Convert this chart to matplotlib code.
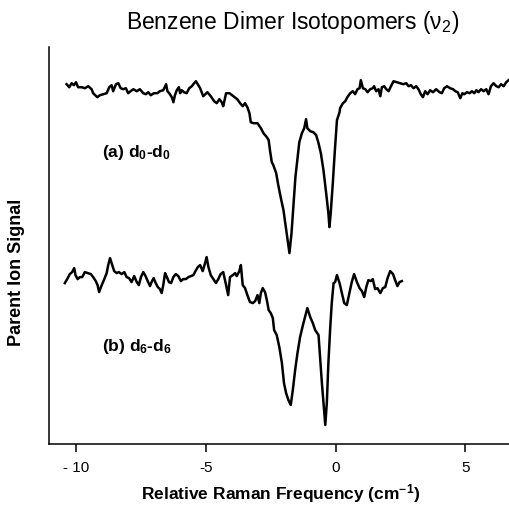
""" Benzene dimer isotopomers: Raman spectra of d0-d0 and d6-d6 """
import matplotlib
matplotlib.use('Agg')
import matplotlib.pyplot as plt

# (a) d0-d0 trace: relative Raman frequency (cm-1) and parent ion signal (arb.)
freq_a = [
    -10.36, -10.26, -10.17, -10.08, -10.00, -9.92, -9.78, -9.66, -9.53, -9.40,
    -9.34, -9.18, -9.08, -8.95, -8.82, -8.72, -8.63, -8.57, -8.46, -8.37,
    -8.28, -8.18, -8.08, -7.99, -7.90, -7.79, -7.66, -7.54, -7.41, -7.31,
    -7.22, -7.12, -7.00, -6.87, -6.77, -6.64, -6.53, -6.48, -6.41, -6.31,
    -6.25, -6.19, -6.12, -6.04, -5.99, -5.93, -5.84, -5.74, -5.64, -5.54,
    -5.45, -5.38, -5.29,
    -5.22, -5.10, -4.94, -4.81, -4.68, -4.58, -4.48, -4.39, -4.33, -4.22,
    -4.09, -3.94, -3.79, -3.68, -3.58, -3.49, -3.40, -3.32, -3.27, -3.17,
    -3.01, -2.88, -2.78, -2.65, -2.58, -2.53, -2.46, -2.40, -2.29, -2.21,
    -2.11, -2.01, -1.94, -1.86, -1.78, -1.70, -1.63, -1.55, -1.47, -1.40,
    -1.30, -1.21, -1.14, -1.09, -0.98, -0.86, -0.75, -0.66, -0.57, -0.47,
    -0.37, -0.28, -0.24, -0.19, -0.11, -0.03, 0.05, 0.15,
    0.17, 0.28, 0.37, 0.45, 0.56, 0.66, 0.75, 0.84, 0.92, 0.97,
    1.05, 1.14, 1.23, 1.33, 1.43, 1.48, 1.56, 1.65, 1.72, 1.78,
    1.87, 1.95, 2.04, 2.13, 2.23, 2.36, 2.49, 2.61, 2.72, 2.81,
    2.90, 3.00, 3.10, 3.19, 3.28, 3.36, 3.45, 3.54, 3.64, 3.75,
    3.87, 4.00, 4.09, 4.18, 4.29, 4.41, 4.52, 4.61, 4.70, 4.80,
    4.88, 4.95, 5.06, 5.16, 5.25, 5.34, 5.42, 5.50, 5.60, 5.70,
    5.80, 5.89, 5.98, 6.08, 6.19, 6.28, 6.37, 6.47, 6.57, 6.66,
]
signal_a = [
    36.0, 35.7, 36.1, 35.9, 36.2, 35.7, 35.7, 35.6, 35.8, 35.5,
    35.1, 34.7, 34.9, 35.0, 35.1, 35.7, 35.9, 35.3, 36.0, 36.1,
    35.6, 35.5, 35.6, 35.1, 35.3, 35.5, 35.3, 35.5, 35.1, 35.0,
    35.2, 34.9, 35.1, 35.1, 35.3, 35.4, 36.0, 35.3, 35.1, 34.7,
    34.2, 34.9, 35.4, 35.7, 35.1, 35.4, 35.2, 35.1, 35.6, 35.8,
    36.1, 36.3, 35.9,
    35.6, 34.8, 35.2, 34.8, 34.3, 34.1, 34.5, 34.2, 33.8, 35.1,
    35.1, 34.8, 34.5, 34.1, 33.8, 34.1, 33.7, 33.1, 32.2, 32.1,
    32.1, 31.6, 31.1, 30.7, 30.4, 29.4, 28.2, 27.9, 27.1, 25.9,
    24.6, 23.4, 22.1, 20.6, 19.1, 21.1, 23.7, 26.7, 28.6, 30.2,
    31.1, 31.6, 32.5, 31.6, 31.3, 31.2, 30.9, 30.1, 29.1, 27.4,
    25.2, 23.1, 21.7, 23.1, 26.1, 29.4, 32.4, 33.2,
    33.6, 34.1, 34.3, 34.7, 35.1, 35.3, 35.0, 35.5, 35.6, 36.4,
    35.6, 35.5, 35.2, 35.5, 35.6, 35.8, 35.3, 35.5, 34.8, 35.7,
    35.8, 35.5, 35.3, 35.8, 36.3, 36.2, 36.1, 36.0, 36.1, 35.8,
    35.9, 35.6, 35.8, 35.5, 35.0, 34.7, 35.3, 35.0, 35.4, 35.2,
    35.5, 35.2, 35.1, 35.6, 35.8, 35.6, 35.5, 35.3, 35.2, 34.6,
    35.1, 35.0, 35.2, 35.1, 35.3, 35.1, 35.4, 35.2, 35.5, 35.3,
    35.5, 35.0, 35.8, 36.1, 35.8, 35.7, 36.0, 35.8, 36.2, 36.4,
]

# (b) d6-d6 trace
freq_b = [
    -10.43, -10.32, -10.24, -10.15, -10.07, -10.02, -9.94, -9.85, -9.76, -9.66,
    -9.55, -9.43, -9.34, -9.24, -9.17, -9.11, -9.01, -8.91, -8.82, -8.76,
    -8.69, -8.63, -8.53, -8.43, -8.35, -8.24, -8.14, -8.05, -7.96, -7.86,
    -7.76, -7.66, -7.58, -7.50, -7.41, -7.32, -7.24, -7.15, -7.09, -7.01,
    -6.93, -6.85, -6.77, -6.70, -6.64, -6.57, -6.50, -6.42, -6.34, -6.25,
    -6.16, -6.06, -5.96, -5.87, -5.77, -5.67, -5.57, -5.48, -5.42, -5.31,
    -5.22, -5.12, -5.03, -4.97, -4.90, -4.81, -4.71, -4.61, -4.52, -4.43,
    -4.33, -4.22, -4.14, -4.07, -3.96, -3.87, -3.81, -3.71, -3.65, -3.58,
    -3.49, -3.40, -3.30, -3.19, -3.10, -3.01, -2.94, -2.88, -2.81, -2.72,
    -2.65, -2.58, -2.50, -2.42, -2.37, -2.27, -2.17, -2.07, -1.99, -1.91,
    -1.82, -1.73, -1.65, -1.56, -1.47, -1.37, -1.26, -1.18, -1.09, -0.98,
    -0.88, -0.79, -0.66, -0.60, -0.53, -0.47, -0.40, -0.34, -0.28, -0.21,
    -0.15, -0.08, -0.02, 0.05, 0.15, 0.24, 0.33, 0.43, 0.53, 0.62,
    0.71, 0.82, 0.92, 1.01, 1.10, 1.18, 1.26, 1.36, 1.43, 1.52,
    1.61, 1.72, 1.82, 1.91, 2.00, 2.10, 2.21, 2.29, 2.38, 2.46,
    2.55,
]
signal_b = [
    16.1, 16.6, 17.0, 17.2, 17.6, 16.9, 16.5, 16.7, 16.7, 17.2,
    17.1, 17.0, 16.7, 16.3, 15.9, 15.2, 15.9, 16.5, 17.1, 17.9,
    18.6, 18.1, 17.3, 17.1, 17.2, 17.0, 17.2, 16.7, 16.6, 16.2,
    16.8, 16.2, 15.9, 16.7, 17.2, 16.8, 16.3, 15.8, 16.2, 16.6,
    16.1, 15.7, 15.5, 15.1, 15.9, 17.1, 16.7, 16.2, 16.1, 16.7,
    17.0, 16.8, 16.3, 16.5, 16.5, 16.7, 16.8, 16.9, 17.2, 17.7,
    17.9, 17.3, 18.1, 18.7, 17.7, 16.9, 16.5, 16.1, 16.5, 17.0,
    17.2, 15.9, 14.9, 16.7, 16.9, 17.1, 16.8, 17.3, 17.9, 15.9,
    15.6, 14.9, 14.2, 14.1, 14.3, 14.9, 14.1, 15.1, 15.6, 15.2,
    14.4, 13.4, 13.1, 12.6, 11.4, 10.9, 9.7, 8.1, 6.1, 5.1,
    4.4, 3.9, 5.4, 7.4, 9.1, 10.7, 11.9, 12.7, 13.6, 12.7,
    12.1, 11.4, 10.9, 8.7, 6.1, 4.1, 1.9, 4.1, 8.1, 11.6,
    14.1, 16.1, 16.2, 16.9, 16.1, 15.1, 14.1, 13.9, 15.1, 16.2,
    17.0, 16.2, 15.6, 15.3, 14.7, 15.7, 16.4, 16.3, 16.5, 15.5,
    15.6, 15.1, 15.6, 15.7, 16.6, 17.3, 17.0, 16.4, 15.8, 16.2,
    16.3,
]

x_ticks = [-10, -5, 0, 5]
x_tick_labels = ['- 10', '-5', '0', '5']

plt.rcParams['font.family'] = ['Liberation Sans', 'DejaVu Sans']
plt.rcParams['mathtext.fontset'] = 'custom'
plt.rcParams['mathtext.rm'] = 'Liberation Sans'
plt.rcParams['mathtext.it'] = 'Liberation Sans'
plt.rcParams['mathtext.bf'] = 'Liberation Sans:bold'

fig = plt.figure(figsize=(5.09, 5.08), dpi=100)
ax = fig.add_axes([0.0963, 0.126, 0.91, 0.781])

ax.plot(freq_a, signal_a, color='black', lw=1.8, solid_joinstyle='round')
ax.plot(freq_b, signal_b, color='black', lw=1.8, solid_joinstyle='round')

ax.text(-9.0, 29.2, r'(a) d$_\mathbf{0}$-d$_\mathbf{0}$', fontsize=12.5,
        fontweight='bold', va='center', ha='left')
ax.text(-9.0, 9.8, r'(b) d$_\mathbf{6}$-d$_\mathbf{6}$', fontsize=12.5,
        fontweight='bold', va='center', ha='left')

ax.set_xlim(-11.04, 6.8)
ax.set_ylim(0, 39.7)

ax.spines['top'].set_visible(False)
ax.spines['right'].set_visible(False)
ax.spines['left'].set_linewidth(1.1)
ax.spines['bottom'].set_linewidth(1.1)

ax.set_xticks(x_ticks)
ax.set_xticklabels(x_tick_labels)
ax.set_yticks([])
ax.tick_params(axis='x', direction='out', length=6, width=1.1, labelsize=11, pad=6)

ax.set_xlabel(r'Relative Raman Frequency (cm$^\mathbf{-1}$)', fontsize=12.5,
              fontweight='bold', labelpad=5)
fig.text(17 / 509, 0.463, 'Parent Ion Signal', rotation=90, fontsize=13,
         fontweight='bold', ha='center', va='center')
fig.text(0.574, 0.955, 'Benzene Dimer Isotopomers (ν$_2$)', fontsize=16.5,
         ha='center', va='center')

fig.savefig('out.png', dpi=100)
